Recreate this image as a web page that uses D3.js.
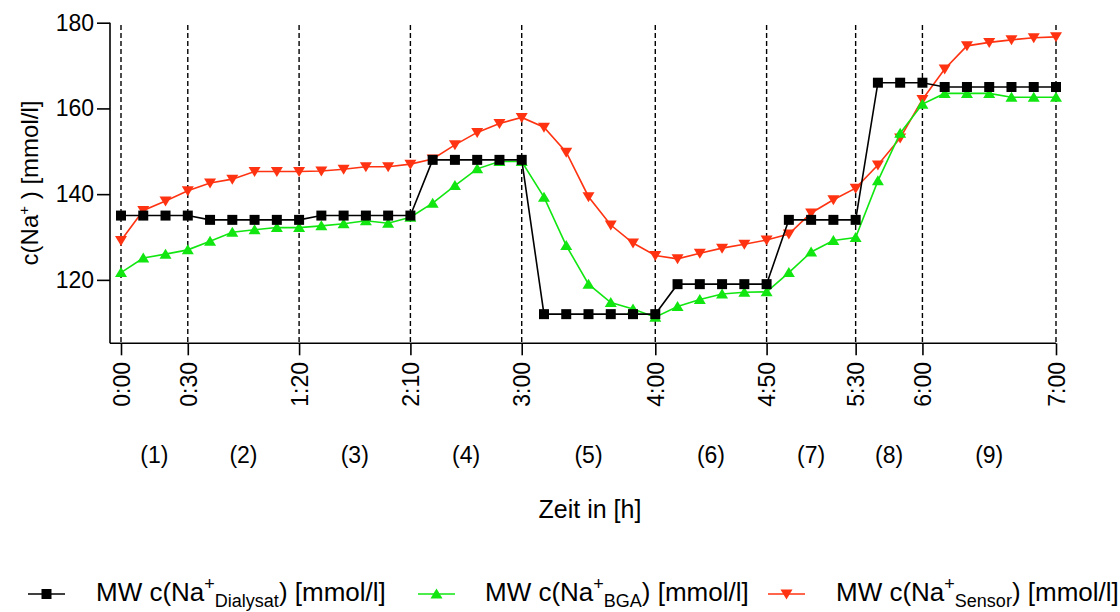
<!DOCTYPE html>
<html>
<head>
<meta charset="utf-8">
<script src="https://cdn.jsdelivr.net/npm/d3@7"></script>
<style>
  html, body { margin: 0; padding: 0; background: #fff; }
  svg { display: block; font-family: Arial, "Liberation Sans", sans-serif; }
</style>
</head>
<body>
<svg id="chart" width="1120" height="612"></svg>
<script>
// Measurement times (minutes since start)
const minutes = [0, 10, 20, 30, 40, 50, 60, 70, 80, 90, 100, 110, 120, 130, 140, 150, 160, 170, 180,
  190, 200, 210, 220, 230, 240, 250, 260, 270, 280, 290, 300, 310, 320, 330, 340, 350, 360,
  370, 380, 390, 400, 410, 420];

// Mean Na+ concentration of the dialysate [mmol/l]
const naDialysat = [135, 135, 135, 135, 134, 134, 134, 134, 134, 135, 135, 135, 135, 135,
  148, 148, 148, 148, 148, 112, 112, 112, 112, 112, 112, 119, 119, 119, 119, 119,
  134, 134, 134, 134, 166, 166, 166, 165, 165, 165, 165, 165, 165];

// Mean Na+ concentration from blood gas analysis [mmol/l]
const naBGA = [121.7, 125.1, 126, 127, 129, 131.1, 131.7, 132.2, 132.2, 132.6, 133.1, 133.8, 133.2, 134.6,
  137.9, 142, 145.9, 147.6, 147.6, 139.3, 128, 119, 114.7, 113.2, 111.3, 113.8, 115.4, 116.7, 117.1, 117.2,
  121.7, 126.5, 129.2, 129.9, 143.1, 154.2, 161, 163.5, 163.5, 163.5, 162.6, 162.6, 162.6];

// Mean Na+ concentration from the sensor [mmol/l]
const naSensor = [129.2, 136.2, 138.4, 140.8, 142.6, 143.5, 145.3, 145.3, 145.3, 145.4, 145.8, 146.4, 146.4, 147,
  148.2, 151.5, 154.4, 156.5, 157.9, 155.6, 149.8, 139.4, 132.8, 128.6, 125.7, 124.9, 126.2, 127.4, 128.3, 129.3,
  130.7, 135.6, 138.7, 141.4, 146.8, 153.1, 162.1, 169.2, 174.6, 175.4, 176, 176.5, 176.7];

// Phase boundaries on the time axis
const tickMinutes = [0, 30, 80, 130, 180, 240, 290, 330, 360, 420];
const tickLabels = ["0:00", "0:30", "1:20", "2:10", "3:00", "4:00", "4:50", "5:30", "6:00", "7:00"];
const phaseLabels = ["(1)", "(2)", "(3)", "(4)", "(5)", "(6)", "(7)", "(8)", "(9)"];

const yTicks = [120, 140, 160, 180];

const svg = d3.select("#chart");

const x = d3.scaleLinear().domain([0, 420]).range([121, 1056]);
const y = d3.scaleLinear().domain([105.2, 180]).range([343.3, 22.7]);

const axisLeft = 110;
const axisBottom = y(105.2);

// Dashed phase separators
svg.append("g")
  .selectAll("line")
  .data(tickMinutes)
  .join("line")
  .attr("x1", d => x(d)).attr("x2", d => x(d))
  .attr("y1", 25).attr("y2", axisBottom)
  .attr("stroke", "#000")
  .attr("stroke-width", 1.4)
  .attr("stroke-dasharray", "5,3");

// Y axis
const yAxis = d3.axisLeft(y).tickValues(yTicks).tickSize(13).tickPadding(3).tickFormat(d3.format("d"));
const gy = svg.append("g").attr("transform", `translate(${axisLeft},0)`).call(yAxis);
gy.select(".domain").attr("d", `M0,${y(180)}V${axisBottom}`).attr("stroke-width", 1.6);
gy.selectAll(".tick line").attr("stroke-width", 1.6);
gy.selectAll(".tick text").attr("font-size", 23).attr("font-family", "Arial, 'Liberation Sans', sans-serif").attr("fill", "#000");

// X axis
const xAxis = d3.axisBottom(x).tickValues(tickMinutes).tickSize(12).tickFormat((d, i) => tickLabels[i]);
const gx = svg.append("g").attr("transform", `translate(0,${axisBottom})`).call(xAxis);
gx.select(".domain").attr("d", `M${axisLeft},0H${x(420)}`).attr("stroke-width", 1.6);
gx.selectAll(".tick line").attr("stroke-width", 1.6);
gx.selectAll(".tick text")
  .attr("font-size", 23)
  .attr("font-family", "Arial, 'Liberation Sans', sans-serif")
  .attr("fill", "#000")
  .attr("text-anchor", "end")
  .attr("transform", "rotate(-90)")
  .attr("x", -(362 - axisBottom))
  .attr("y", 0)
  .attr("dy", "0.36em");

// Phase numbers centred between the boundaries
svg.append("g")
  .selectAll("text")
  .data(phaseLabels)
  .join("text")
  .attr("x", (d, i) => (x(tickMinutes[i]) + x(tickMinutes[i + 1])) / 2)
  .attr("y", 463)
  .attr("text-anchor", "middle")
  .attr("font-size", 23)
  .text(d => d);

// Axis titles
svg.append("text")
  .attr("x", 590).attr("y", 518)
  .attr("text-anchor", "middle")
  .attr("font-size", 25)
  .text("Zeit in [h]");

const yTitle = svg.append("text")
  .attr("transform", "translate(38,183) rotate(-90)")
  .attr("text-anchor", "middle")
  .attr("font-size", 24);
yTitle.append("tspan").text("c(Na");
yTitle.append("tspan").attr("dy", -9).attr("font-size", 15).text("+");
yTitle.append("tspan").attr("dy", 9).text(" ) [mmol/l]");

// Series
const series = [
  { name: "Sensor", values: naSensor, color: "#ff3311", marker: "down" },
  { name: "BGA", values: naBGA, color: "#11e611", marker: "up" },
  { name: "Dialysat", values: naDialysat, color: "#000000", marker: "square" }
];

function markerPath(type) {
  if (type === "square") return "M-5,-5H5V5H-5Z";
  if (type === "up") return "M0,-5.5L6,4.5L-6,4.5Z";
  return "M0,5.5L6,-4.5L-6,-4.5Z";
}

const line = d3.line().x((d, i) => x(minutes[i])).y(d => y(d));

series.forEach(s => {
  const g = svg.append("g");
  g.append("path")
    .attr("d", line(s.values))
    .attr("fill", "none")
    .attr("stroke", s.color)
    .attr("stroke-width", 1.6);
  g.selectAll("path.m")
    .data(s.values)
    .join("path")
    .attr("class", "m")
    .attr("d", markerPath(s.marker))
    .attr("transform", (d, i) => `translate(${x(minutes[i])},${y(d)})`)
    .attr("fill", s.color);
});

// Legend
const legendItems = [
  { sub: "Dialysat", color: "#000000", marker: "square", x0: 28, tx: 96 },
  { sub: "BGA", color: "#11e611", marker: "up", x0: 418, tx: 485 },
  { sub: "Sensor", color: "#ff3311", marker: "down", x0: 768, tx: 836 }
];
const legendY = 594;
legendItems.forEach(it => {
  const g = svg.append("g");
  g.append("line")
    .attr("x1", it.x0).attr("x2", it.x0 + 37)
    .attr("y1", legendY).attr("y2", legendY)
    .attr("stroke", it.color).attr("stroke-width", 1.6);
  g.append("path")
    .attr("d", markerPath(it.marker))
    .attr("transform", `translate(${it.x0 + 18.5},${legendY})`)
    .attr("fill", it.color);
  const t = g.append("text").attr("x", it.tx).attr("y", 601).attr("font-size", 26);
  t.append("tspan").text("MW c(Na");
  t.append("tspan").attr("dy", -11).attr("font-size", 18).text("+");
  t.append("tspan").attr("dy", 17).attr("font-size", 18).text(it.sub);
  t.append("tspan").attr("dy", -6).text(") [mmol/l]");
});
</script>
</body>
</html>
